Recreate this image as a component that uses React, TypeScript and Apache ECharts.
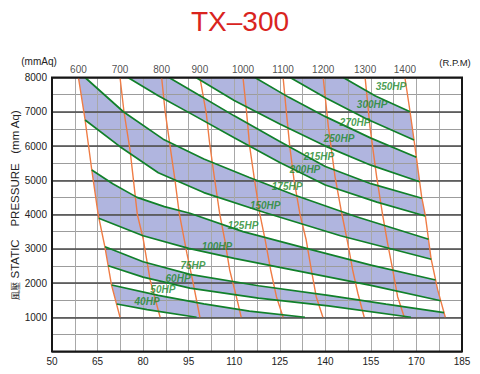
import React, { useEffect, useRef } from 'react';
import * as echarts from 'echarts';

type P = [number, number];

const FONT = '"Liberation Sans", Arial, Helvetica, sans-serif';
const titleText = 'TX–300';

// x-axis (flow) tick labels and y-axis (pressure) tick labels
const xTickLabels = [50, 65, 80, 95, 110, 125, 140, 155, 170, 185];
const yTickLabels = [1000, 2000, 3000, 4000, 5000, 6000, 7000, 8000];

// constant-RPM curves, read top -> bottom, [flow, pressure]
const rpmNames = ['600', '700', '800', '900', '1000', '1100', '1200', '1300', '1400'];
const rpm600: P[] = [[58.7, 8000], [60.9, 6760], [63.1, 5300], [65.2, 4000], [67.4, 3060], [69.6, 1940], [72.4, 1000]];
const rpm700: P[] = [[72.4, 8000], [73.7, 7000], [75.7, 5880], [78.1, 4000], [80.0, 3300], [82.3, 2090], [85.6, 1000]];
const rpm800: P[] = [[86.1, 8000], [87.2, 7050], [88.9, 5980], [90.5, 5000], [91.9, 4030], [94.4, 2870], [96.5, 1990], [98.7, 1000]];
const rpm900: P[] = [[98.7, 8000], [100.8, 6955], [101.9, 6080], [103.6, 5000], [105.2, 4030], [106.9, 3255], [108.5, 2380], [110.7, 1600], [112.3, 1000]];
const rpm1000: P[] = [[112.9, 8000], [114.0, 7050], [115.1, 5980], [116.7, 5000], [118.4, 4030], [120.2, 3255], [122.0, 2380], [123.9, 1600], [126.1, 1000]];
const rpm1100: P[] = [[126.1, 8000], [127.1, 7050], [128.3, 5980], [129.7, 5000], [131.6, 4030], [133.7, 3255], [135.4, 2380], [137.0, 1600], [139.2, 1000]];
const rpm1200: P[] = [[139.3, 8000], [141.0, 6560], [143.2, 5100], [145.3, 4080], [147.4, 3160], [149.0, 2380], [150.7, 1700], [152.8, 1000]];
const rpm1300: P[] = [[153.1, 8000], [154.7, 6560], [156.9, 5100], [158.7, 4080], [160.5, 3160], [162.2, 2380], [163.8, 1600], [166.0, 1000]];
const rpm1400: P[] = [[166.2, 8000], [167.9, 7000], [169.2, 6175], [170.1, 5590], [171.7, 4520], [172.9, 3985], [174.8, 2720], [177.0, 1800], [179.5, 1000]];
const rpmLines = [rpm600, rpm700, rpm800, rpm900, rpm1000, rpm1100, rpm1200, rpm1300, rpm1400];

// constant-power curves, read left -> right
const hpNames = ['350HP', '300HP', '270HP', '250HP', '215HP', '200HP', '175HP', '150HP', '125HP', '100HP', '75HP', '60HP', '50HP', '40HP'];
const hp350: P[] = [[145.9, 8000], [156.5, 7460], [167.9, 7000]];
const hp300: P[] = [[128.4, 8000], [140.2, 7400], [153.6, 6790], [169.2, 6175]];
const hp270: P[] = [[116.8, 8000], [128.0, 7420], [140.2, 6850], [155.0, 6230], [170.0, 5670]];
const hp250: P[] = [[97.4, 8000], [110.0, 7330], [125.0, 6640], [140.2, 5990], [155.0, 5440], [171.05, 4958]];
const hp215: P[] = [[88.5, 8000], [95.4, 7640], [110.0, 6880], [125.0, 6130], [140.0, 5400], [155.0, 4900], [171.8, 4473]];
const hp200: P[] = [[75.0, 8000], [85.0, 7470], [95.4, 6960], [110.0, 6240], [125.0, 5520], [140.0, 4860], [157.0, 4360], [172.9, 3956]];
const hp175: P[] = [[60.9, 8000], [73.5, 7000], [86.6, 6200], [100.0, 5620], [115.0, 5080], [130.0, 4560], [150.0, 3940], [174.0, 3277]];
const hp150: P[] = [[60.9, 6760], [72.4, 5980], [85.0, 5220], [100.0, 4640], [120.0, 4060], [145.0, 3380], [174.9, 2692]];
const hp125: P[] = [[63.1, 5300], [70.0, 4900], [78.0, 4500], [87.0, 4230], [95.4, 4035], [112.9, 3500], [135.0, 2980], [155.0, 2520], [176.3, 2088]];
const hp100: P[] = [[65.4, 3890], [80.0, 3380], [95.0, 3010], [110.0, 2720], [130.0, 2370], [155.0, 1930], [178.0, 1483]];
const hp75: P[] = [[67.45, 3060], [80.0, 2620], [95.4, 2250], [118.0, 1920], [141.0, 1640], [160.0, 1385], [179.1, 1133]];
const hp60: P[] = [[68.5, 2505], [80.0, 2170], [95.4, 1850], [118.0, 1560], [141.0, 1330], [168.2, 1000]];
const hp50: P[] = [[69.66, 1942], [85.0, 1640], [100.0, 1390], [115.0, 1180], [133.3, 1000]];
const hp40: P[] = [[71.3, 1387], [81.3, 1225], [97.6, 1000]];
const hpLines = [hp350, hp300, hp270, hp250, hp215, hp200, hp175, hp150, hp125, hp100, hp75, hp60, hp50, hp40];

// label anchor for each power curve
const hpLabelAt: P[] = [
  [161.6, 7730], [155.4, 7200], [149.8, 6690], [144.5, 6220], [137.9, 5680], [133.3, 5300], [127.4, 4810],
  [120.2, 4270], [112.9, 3690], [104.3, 3060], [96.4, 2500], [91.5, 2120], [86.5, 1800], [81.3, 1450],
];

// shaded bands: pairs of power curves (upper, lower), indices into hpLines
const bandPairs: [number, number][] = [[0, 1], [2, 3], [4, 5], [6, 7], [8, 9], [10, 11], [12, 13]];

// closed boundary of the operating area: 1400 rpm curve downwards, then 600 rpm curve upwards
const boundaryLoop: P[] = [...rpm1400, ...rpm600.slice().reverse()];

function renderBand(params: any, api: any) {
  const [ui, li] = bandPairs[params.dataIndex];
  const px = (p: P) => api.coord(p) as P;
  const U = hpLines[ui].map(px);
  const L = hpLines[li].map(px);
  const loop = boundaryLoop.map(px);
  const n = loop.length;
  const pos = (p: P) => {
    let best = Infinity;
    let bp = 0;
    for (let i = 0; i < n; i++) {
      const a = loop[i];
      const c = loop[(i + 1) % n];
      const dx = c[0] - a[0];
      const dy = c[1] - a[1];
      const len2 = dx * dx + dy * dy || 1;
      let t = ((p[0] - a[0]) * dx + (p[1] - a[1]) * dy) / len2;
      t = Math.max(0, Math.min(1, t));
      const qx = a[0] + t * dx - p[0];
      const qy = a[1] + t * dy - p[1];
      const d = qx * qx + qy * qy;
      if (d < best) {
        best = d;
        bp = i + t;
      }
    }
    return bp;
  };
  const walk = (from: number, to: number) => {
    const out: P[] = [];
    let end = to;
    if (end < from) end += n;
    for (let k = Math.floor(from) + 1; k < end; k++) out.push(loop[k % n]);
    return out;
  };
  const pts: P[] = [
    ...U,
    ...walk(pos(U[U.length - 1]), pos(L[L.length - 1])),
    ...L.slice().reverse(),
    ...walk(pos(L[0]), pos(U[0])),
  ];
  return { type: 'polygon', shape: { points: pts }, style: { fill: '#b0b5df', stroke: 'none' } };
}

function buildOption(): any {
  const gridL = 52, gridT = 77.5, gridW = 410, gridH = 274;
  const series: any[] = [];
  series.push({
    type: 'custom',
    xAxisIndex: 2,
    yAxisIndex: 0,
    z: 0,
    silent: true,
    renderItem: renderBand,
    data: bandPairs.map(([u]) => hpLines[u][0]),
  });
  rpmLines.forEach((l, i) => {
    series.push({
      type: 'line',
      name: rpmNames[i],
      xAxisIndex: 2,
      yAxisIndex: 0,
      data: l,
      symbol: 'none',
      z: 5,
      lineStyle: { color: '#ef7c45', width: 1.4 },
    });
  });
  hpLines.forEach((l, i) => {
    series.push({
      type: 'line',
      name: hpNames[i],
      xAxisIndex: 2,
      yAxisIndex: 0,
      data: l,
      symbol: 'none',
      z: 6,
      lineStyle: { color: '#11802a', width: 1.7 },
    });
  });
  series.push({
    type: 'scatter',
    xAxisIndex: 2,
    yAxisIndex: 0,
    z: 8,
    symbolSize: 1,
    itemStyle: { color: 'rgba(0,0,0,0)' },
    data: rpmLines.map((l, i) => ({ value: l[0], name: rpmNames[i] })),
    label: {
      show: true,
      position: 'top',
      distance: 3,
      formatter: '{b}',
      fontSize: 10,
      color: '#222',
      fontFamily: FONT,
    },
  });
  series.push({
    type: 'scatter',
    xAxisIndex: 2,
    yAxisIndex: 0,
    z: 9,
    symbolSize: 1,
    itemStyle: { color: 'rgba(0,0,0,0)' },
    data: hpLabelAt.map((p, i) => ({ value: p, name: hpNames[i] })),
    label: {
      show: true,
      position: 'inside',
      formatter: '{b}',
      fontSize: 10,
      fontWeight: 'bold',
      fontStyle: 'italic',
      color: '#1a8729',
      fontFamily: FONT,
    },
  });

  return {
    animation: false,
    textStyle: { fontFamily: FONT },
    title: {
      text: titleText,
      left: 'center',
      top: 2,
      textStyle: { fontSize: 28, fontWeight: 'normal', color: '#d9241e', fontFamily: FONT },
    },
    grid: { left: gridL, top: gridT, width: gridW, height: gridH },
    xAxis: [
      {
        type: 'value', min: 0, max: xTickLabels[xTickLabels.length - 1] - xTickLabels[0], interval: 15, position: 'bottom', z: 1,
        axisLine: { show: false }, axisTick: { show: false },
        axisLabel: { show: true, formatter: (_v: number, i: number) => String(xTickLabels[i]), fontSize: 10, color: '#222', margin: 5, fontFamily: FONT },
        splitLine: { show: true, lineStyle: { color: '#8c8c8c', width: 1 } },
      },
      {
        type: 'value', min: 0, max: xTickLabels[xTickLabels.length - 1] - xTickLabels[0], interval: 7.5, position: 'top', z: 1,
        axisLine: { show: false }, axisTick: { show: false }, axisLabel: { show: false },
        splitLine: { show: true, lineStyle: { color: '#a8a8a8', width: 1 } },
      },
      { type: 'value', min: xTickLabels[0], max: xTickLabels[xTickLabels.length - 1], show: false },
    ],
    yAxis: [
      {
        type: 'value', min: 0, max: yTickLabels[yTickLabels.length - 1], interval: 1000, position: 'left', z: 2,
        axisLine: { show: false }, axisTick: { show: false },
        axisLabel: { formatter: (v: number) => (yTickLabels.includes(v) ? String(v) : ''), fontSize: 10, color: '#222', margin: 5, fontFamily: FONT },
        splitLine: { show: true, lineStyle: { color: '#4a4a4a', width: 1.6 } },
      },
      {
        type: 'value', min: 0, max: yTickLabels[yTickLabels.length - 1], interval: 500, position: 'right', z: 1,
        axisLine: { show: false }, axisTick: { show: false }, axisLabel: { show: false },
        splitLine: { show: true, lineStyle: { color: '#9c9c9c', width: 1 } },
      },
    ],
    graphic: [
      {
        type: 'rect', z: 100, silent: true,
        shape: { x: gridL, y: gridT, width: gridW, height: gridH },
        style: { fill: 'none', stroke: '#161616', lineWidth: 2 },
      },
      {
        type: 'text', x: 39, y: 61, z: 100,
        style: { text: '(mmAq)', fontSize: 10, fill: '#222', align: 'center', verticalAlign: 'middle', textAlign: 'center', textVerticalAlign: 'middle', fontFamily: FONT },
      },
      {
        type: 'text', x: 455, y: 62, z: 100,
        style: { text: '(R.P.M)', fontSize: 9.5, fill: '#222', align: 'center', verticalAlign: 'middle', textAlign: 'center', textVerticalAlign: 'middle', fontFamily: FONT },
      },
      {
        type: 'text', x: 15, y: 205, z: 100, rotation: Math.PI / 2,
        style: {
          text: '{c|風壓} STATIC    PRESSURE   (mm Aq)',
          fontSize: 11.5, fill: '#222', fontFamily: FONT,
          align: 'center', verticalAlign: 'middle', textAlign: 'center', textVerticalAlign: 'middle',
          rich: { c: { fontSize: 9, fill: '#333', fontFamily: '"Noto Sans CJK TC", "Noto Sans CJK SC", sans-serif' } },
        },
      },
    ],
    series,
  };
}

export default function App() {
  const ref = useRef<HTMLDivElement>(null);
  useEffect(() => {
    if (!ref.current) return;
    const chart = echarts.init(ref.current, null, { renderer: 'svg' });
    chart.setOption(buildOption());
    return () => chart.dispose();
  }, []);
  return (
    <div
      ref={ref}
      style={{ position: 'absolute', left: 0, top: 0, width: 480, height: 374, background: '#fff' }}
    />
  );
}
